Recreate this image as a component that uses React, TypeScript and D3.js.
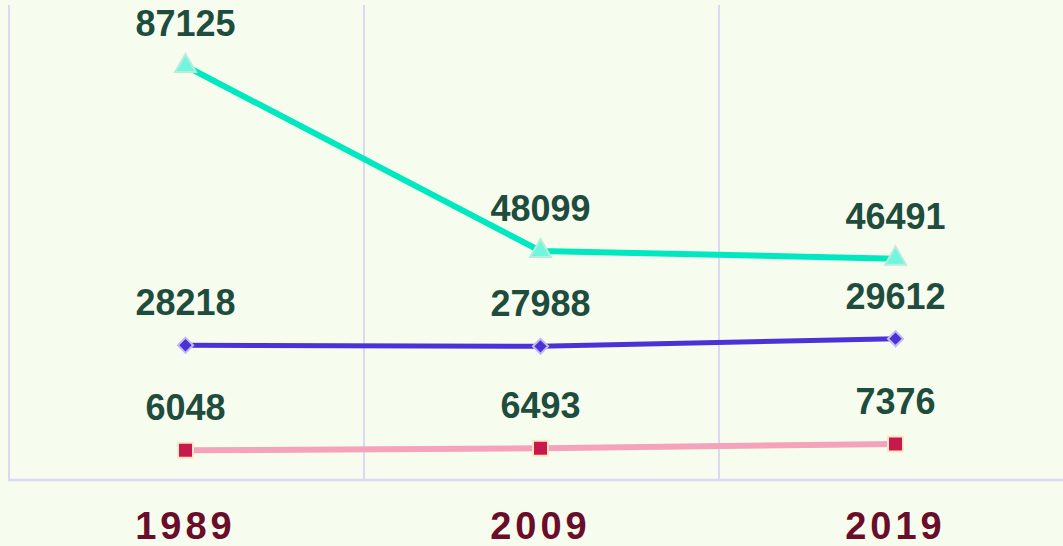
import React, { useRef, useEffect } from "react";
import * as d3 from "d3";

const years = ["1989", "2009", "2019"];
const seriesTop = [87125, 48099, 46491];
const seriesMid = [28218, 27988, 29612];
const seriesLow = [6048, 6493, 7376];

const W = 1063;
const H = 546;

const App = () => {
  const svgRef = useRef<SVGSVGElement>(null);

  useEffect(() => {
    const svg = d3.select(svgRef.current);
    svg.selectAll("*").remove();

    svg.append("rect").attr("width", W).attr("height", H).attr("fill", "#f7fdee");

    const x = d3.scaleBand().domain(years).range([8, 1073]).padding(0);
    const y = d3.scaleLinear().domain([0, 100000]).range([479, 5]);
    const cx = (d: string) => (x(d) as number) + x.bandwidth() / 2;

    const grid = svg.append("g");
    // band borders
    const edges = years.map((d) => x(d) as number).concat([x.range()[1]]);
    grid.selectAll("line.v")
      .data(edges)
      .enter()
      .append("line")
      .attr("x1", (d) => d + 1)
      .attr("x2", (d) => d + 1)
      .attr("y1", 5)
      .attr("y2", 480)
      .attr("stroke", "#dcd8f2")
      .attr("stroke-width", 2);
    grid.append("line")
      .attr("x1", 8)
      .attr("x2", W)
      .attr("y1", 480)
      .attr("y2", 480)
      .attr("stroke", "#dcd8f2")
      .attr("stroke-width", 2.5);

    const series = [
      { values: seriesTop, line: "#00e8bf", width: 6, fill: "#6ff6dd", stroke: "#b8ecdc", shape: d3.symbolTriangle, size: 190, rot: 0 },
      { values: seriesMid, line: "#4a32d8", width: 5, fill: "#4a32d8", stroke: "#c4bbf5", shape: d3.symbolSquare, size: 115, rot: 45 },
      { values: seriesLow, line: "#f4a3bb", width: 6, fill: "#c8194c", stroke: "#ffe6c4", shape: d3.symbolSquare, size: 225, rot: 0 },
    ];

    const line = d3.line<number>()
      .x((_, i) => cx(years[i]))
      .y((d) => y(d));

    series.forEach((s) => {
      const g = svg.append("g");
      g.append("path")
        .datum(s.values)
        .attr("d", line)
        .attr("fill", "none")
        .attr("stroke", s.line)
        .attr("stroke-width", s.width);

      g.selectAll("path.m")
        .data(s.values)
        .enter()
        .append("path")
        .attr("class", "m")
        .attr("transform", (d, i) => `translate(${cx(years[i])},${y(d)}) rotate(${s.rot})`)
        .attr("d", d3.symbol().type(s.shape).size(s.size)())
        .attr("fill", s.fill)
        .attr("stroke", s.stroke)
        .attr("stroke-width", 2);

      g.selectAll("text")
        .data(s.values)
        .enter()
        .append("text")
        .attr("x", (d, i) => cx(years[i]))
        .attr("y", (d) => y(d) - 30)
        .attr("text-anchor", "middle")
        .style("font-family", "Arial, 'Liberation Sans', sans-serif")
        .style("font-weight", "bold")
        .style("font-size", "36px")
        .attr("fill", "#1e4c3d")
        .text((d) => String(d));
    });

    svg.append("g")
      .selectAll("text")
      .data(years)
      .enter()
      .append("text")
      .attr("x", (d) => cx(d))
      .attr("y", 539)
      .attr("text-anchor", "middle")
      .style("font-family", "Arial, 'Liberation Sans', sans-serif")
      .style("font-weight", "bold")
      .style("font-size", "38px")
      .style("letter-spacing", "4px")
      .attr("fill", "#6a0d2a")
      .text((d) => d);
  }, []);

  return (
    <div style={{ position: "absolute", left: 0, top: 0 }}>
      <svg ref={svgRef} width={W} height={H} style={{ display: "block" }}></svg>
    </div>
  );
};

export default App;
